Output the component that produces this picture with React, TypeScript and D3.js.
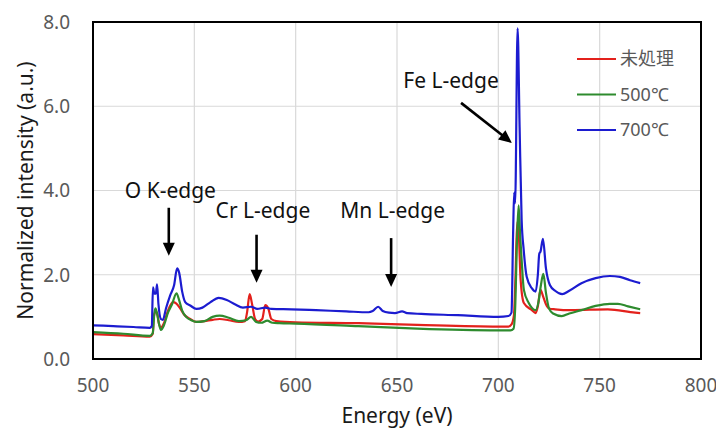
import React, { useRef, useEffect } from 'react';
import * as d3 from 'd3';

const xTicks = [500, 550, 600, 650, 700, 750, 800];
const yTicks = [0, 2, 4, 6, 8];

// 未処理
const untreatedEnergy = [500, 515, 528, 529.5, 530, 530.8, 531.6, 532.5, 533.5, 535, 537, 539.5, 541, 543, 545, 548, 551, 555, 559, 562.5, 567, 572, 575, 576, 577.3, 578.5, 580, 581.5, 583.5, 585, 586.5, 588, 590.5, 600, 631, 660, 700, 705, 706.5, 707.7, 708.5, 709.3, 710, 711, 712.6, 716.6, 718.4, 719.5, 720.8, 722, 723.5, 725, 728, 736, 754, 767.5, 770];
const untreatedValue = [0.59, 0.56, 0.53, 0.6, 1.0, 1.12, 1.1, 0.85, 0.75, 0.85, 1.15, 1.35, 1.32, 1.2, 1.05, 0.95, 0.88, 0.9, 0.93, 0.95, 0.92, 0.88, 0.9, 1.1, 1.54, 1.3, 0.95, 0.89, 0.95, 1.28, 1.2, 0.95, 0.9, 0.87, 0.85, 0.81, 0.77, 0.77, 0.82, 1.04, 2.0, 3.25, 3.05, 1.88, 1.33, 1.16, 1.09, 1.25, 1.64, 1.5, 1.3, 1.2, 1.18, 1.16, 1.18, 1.1, 1.09];

// 500℃
const t500Energy = [500, 515, 528, 529.5, 530.2, 530.8, 531.5, 532.5, 533.5, 535, 537, 539, 541.2, 542.5, 544, 546, 548.5, 551, 555, 559, 562.5, 567, 572, 575.5, 578, 580.5, 583, 586, 588.5, 592, 600, 631, 660, 700, 706, 707.5, 708.3, 709.2, 710, 710.8, 711.5, 712.6, 715, 718.4, 719.8, 721, 722.2, 723.5, 725, 727, 731.3, 735, 741, 748, 755, 759, 764, 770];
const t500Value = [0.64, 0.6, 0.55, 0.62, 1.05, 1.2, 1.1, 0.85, 0.69, 0.8, 1.1, 1.3, 1.56, 1.4, 1.15, 1.0, 0.92, 0.88, 0.9, 1.0, 1.03, 0.98, 0.9, 0.92, 1.0, 0.88, 0.86, 0.91, 0.86, 0.85, 0.84, 0.78, 0.72, 0.68, 0.68, 0.72, 1.2, 2.8, 3.65, 2.9, 2.35, 1.64, 1.33, 1.16, 1.35, 1.75, 2.02, 1.57, 1.2, 1.08, 1.02, 1.08, 1.16, 1.26, 1.31, 1.31, 1.25, 1.18];

// 700℃
const t700Energy = [500, 510, 520, 528, 529, 529.6, 530.3, 531, 531.6, 532.3, 533.5, 534.5, 536, 538, 540, 541.5, 542.5, 544, 545.5, 548, 551, 554, 558, 562, 566, 570, 574, 578, 581, 585, 588, 598, 610, 625, 636, 638, 640.7, 643, 646, 649, 652.5, 655, 662, 680, 700, 705, 706.5, 707.3, 707.8, 708.3, 709.5, 710.5, 711.5, 712.5, 714, 716.5, 718.4, 719.5, 720.2, 720.8, 722, 723.5, 725.5, 728, 731.5, 735, 741, 748, 755, 760, 765, 770];
const t700Value = [0.8, 0.78, 0.76, 0.74, 0.78, 1.7, 1.55, 1.55, 1.77, 1.3, 0.95, 0.93, 1.2, 1.5, 1.75, 2.15, 2.05, 1.6, 1.35, 1.27, 1.19, 1.22, 1.35, 1.45, 1.4, 1.3, 1.22, 1.24, 1.19, 1.22, 1.19, 1.18, 1.16, 1.13, 1.11, 1.14, 1.24, 1.14, 1.1, 1.09, 1.13, 1.09, 1.07, 1.04, 1.0, 1.02, 1.1, 3.0, 3.95, 3.7, 7.85, 5.5, 3.3, 2.6, 1.95, 1.68, 1.6, 2.0, 2.5, 2.55, 2.85, 2.15, 1.75, 1.62, 1.54, 1.62, 1.8, 1.92, 1.97, 1.95, 1.87, 1.8];

const seriesNames = ['未処理', '500℃', '700℃'];
const seriesColors = ['#e3211c', '#2e8b2e', '#1c1cd0'];

const labelNames = ['O K-edge', 'Cr L-edge', 'Mn L-edge', 'Fe L-edge'];
const labelEnergy = [515.7, 560.5, 622, 653.1];
const labelValue = [3.82, 3.35, 3.35, 6.44];
const arrowFromEnergy = [537.4, 580.7, 647.1, 681.6];
const arrowFromValue = [3.59, 2.95, 2.87, 6.08];
const arrowToEnergy = [537.4, 580.7, 647.1, 706.7];
const arrowToValue = [2.45, 1.81, 1.71, 5.13];

const font = '"Noto Sans", "Noto Sans CJK JP", sans-serif';

function XasChart() {
  const svgRef = useRef<SVGSVGElement>(null);

  useEffect(() => {
    const svg = d3.select(svgRef.current);
    svg.selectAll('*').remove();

    const left = 93, right = 701, top = 22, bottom = 359;
    const x = d3.scaleLinear().domain([500, 800]).range([left, right]);
    const y = d3.scaleLinear().domain([0, 8]).range([bottom, top]);

    // grid
    const grid = svg.append('g').attr('stroke', '#d9d9d9').attr('stroke-width', 1.2);
    grid.selectAll('.gx').data(xTicks.slice(1, -1)).join('line')
      .attr('x1', d => x(d)).attr('x2', d => x(d)).attr('y1', top).attr('y2', bottom);
    grid.selectAll('.gy').data(yTicks.slice(1, -1)).join('line')
      .attr('x1', left).attr('x2', right).attr('y1', d => y(d)).attr('y2', d => y(d));

    // tick labels
    svg.append('g').selectAll('text').data(yTicks).join('text')
      .attr('x', 70).attr('y', d => y(d)).attr('dy', '0.36em')
      .attr('text-anchor', 'end').attr('font-family', font).attr('font-size', 19)
      .attr('fill', '#595959').text(d => d3.format('.1f')(d));
    svg.append('g').selectAll('text').data(xTicks).join('text')
      .attr('x', d => x(d)).attr('y', 392)
      .attr('text-anchor', 'middle').attr('font-family', font).attr('font-size', 19)
      .attr('fill', '#595959').text(d => d);

    // axis titles
    svg.append('text').attr('transform', `translate(33,${(top + bottom) / 2}) rotate(-90)`)
      .attr('text-anchor', 'middle').attr('font-family', font).attr('font-size', 21)
      .attr('fill', '#1a1a1a').text('Normalized intensity (a.u.)');
    svg.append('text').attr('x', (left + right) / 2).attr('y', 423)
      .attr('text-anchor', 'middle').attr('font-family', font).attr('font-size', 21)
      .attr('fill', '#1a1a1a').text('Energy (eV)');

    // series: red, then green, then blue on top
    const energies = [untreatedEnergy, t500Energy, t700Energy];
    const values = [untreatedValue, t500Value, t700Value];
    const myLine = d3.line().curve(d3.curveMonotoneX);
    energies.forEach((en, i) => {
      const pts: [number, number][] = en.map((e, j) => [x(e), y(values[i][j])]);
      svg.append('path')
        .attr('d', myLine(pts))
        .attr('fill', 'none').attr('stroke', seriesColors[i])
        .attr('stroke-width', 2.2).attr('stroke-linejoin', 'round');
    });

    // frame
    svg.append('rect').attr('x', left).attr('y', top)
      .attr('width', right - left).attr('height', bottom - top)
      .attr('fill', 'none').attr('stroke', '#000').attr('stroke-width', 2);

    // legend
    const legend = svg.append('g');
    seriesNames.forEach((name, i) => {
      const ly = 59 + i * 35.5;
      legend.append('line').attr('x1', 577).attr('x2', 616).attr('y1', ly).attr('y2', ly)
        .attr('stroke', seriesColors[i]).attr('stroke-width', 2.2);
      legend.append('text').attr('x', 620).attr('y', ly).attr('dy', '0.36em')
        .attr('font-family', font).attr('font-size', 18).attr('fill', '#595959').text(name);
    });

    // annotations
    const ann = svg.append('g');
    labelNames.forEach((name, i) => {
      ann.append('text').attr('x', x(labelEnergy[i])).attr('y', y(labelValue[i]))
        .attr('font-family', font).attr('font-size', 21).attr('fill', '#111').text(name);
      const x1 = x(arrowFromEnergy[i]), y1 = y(arrowFromValue[i]);
      const x2 = x(arrowToEnergy[i]), y2 = y(arrowToValue[i]);
      const len = Math.hypot(x2 - x1, y2 - y1);
      const ux = (x2 - x1) / len, uy = (y2 - y1) / len;
      const head = 13, half = 6;
      ann.append('line').attr('x1', x1).attr('y1', y1)
        .attr('x2', x2 - ux * (head - 2)).attr('y2', y2 - uy * (head - 2))
        .attr('stroke', '#000').attr('stroke-width', 2.6);
      const bx = x2 - ux * head, by = y2 - uy * head;
      ann.append('path')
        .attr('d', `M${x2},${y2}L${bx - uy * half},${by + ux * half}L${bx + uy * half},${by - ux * half}Z`)
        .attr('fill', '#000');
    });
  }, []);

  return (
    <svg ref={svgRef} width={716} height={430}
      style={{ position: 'absolute', left: 0, top: 0, background: '#fff' }} />
  );
}

export default function App() {
  return <XasChart />;
}
